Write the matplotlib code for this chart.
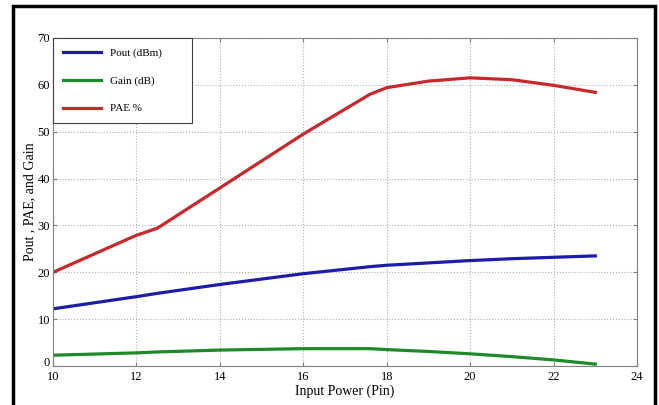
import numpy as np
from matplotlib import pyplot as plt
from matplotlib.patches import Rectangle
from matplotlib.transforms import ScaledTranslation

# data
pin = [10, 12, 12.5, 14, 16, 17.6, 18, 19, 20, 21, 22, 23]
pout = [12.2, 14.8, 15.5, 17.4, 19.7, 21.2, 21.5, 22.0, 22.5, 22.9, 23.2, 23.5]
gain = [2.3, 2.8, 3.0, 3.4, 3.7, 3.7, 3.5, 3.1, 2.6, 2.0, 1.3, 0.4]
pae = [20.0, 27.9, 29.4, 38.0, 49.5, 58.0, 59.4, 60.8, 61.5, 61.1, 59.9, 58.4]

plt.rcParams['font.family'] = ['Liberation Serif', 'DejaVu Serif']

fig = plt.figure(figsize=(6.59, 4.05), dpi=100)
ax = fig.add_axes([53/659, 39/405, 584/659, 328/405])

ax.plot(pin, pout, color='#1c1ca8', lw=2.3, label="Pout (dBm)")
ax.plot(pin, gain, color='#1f8a2a', lw=2.3, label="Gain (dB)")
ax.plot(pin, pae, color='#c8282c', lw=2.3, label="PAE %")

ax.set_xlim(10, 24)
ax.set_ylim(0, 70)
ax.set_xticks(np.arange(10, 25, 2))
ax.set_yticks(np.arange(0, 71, 10))
ax.grid(True, linestyle=':', color='#b0b0b0', lw=0.8)
ax.tick_params(direction='in', top=True, right=True, labelsize=9, length=3, color='#808080')
ax.tick_params(axis='y', pad=2)
for s in ax.spines.values():
    s.set_color('#808080')

# nudge the "0" label up a little, like the reference
fig.canvas.draw()
zero = ax.get_yticklabels()[0]
zero.set_transform(zero.get_transform() + ScaledTranslation(0, 4/100, fig.dpi_scale_trans))

ax.set_xlabel("Input Power (Pin)", fontsize=10, labelpad=1)
ax.set_ylabel("Pout , PAE, and Gain", fontsize=10, labelpad=1)

leg = ax.legend(loc='upper left', bbox_to_anchor=(0, 1, 139/584, 0), mode='expand',
                borderaxespad=0, fontsize=8, handlelength=3.4,
                labelspacing=1.6, fancybox=False, edgecolor='#404040', framealpha=1,
                borderpad=0.9)
leg.get_frame().set_linewidth(0.8)

fig.add_artist(Rectangle((13/659, -0.02), 642/659, 1.02 - 6/405, transform=fig.transFigure,
                         fill=False, lw=2.5, edgecolor='black'))

plt.savefig("out.png")
